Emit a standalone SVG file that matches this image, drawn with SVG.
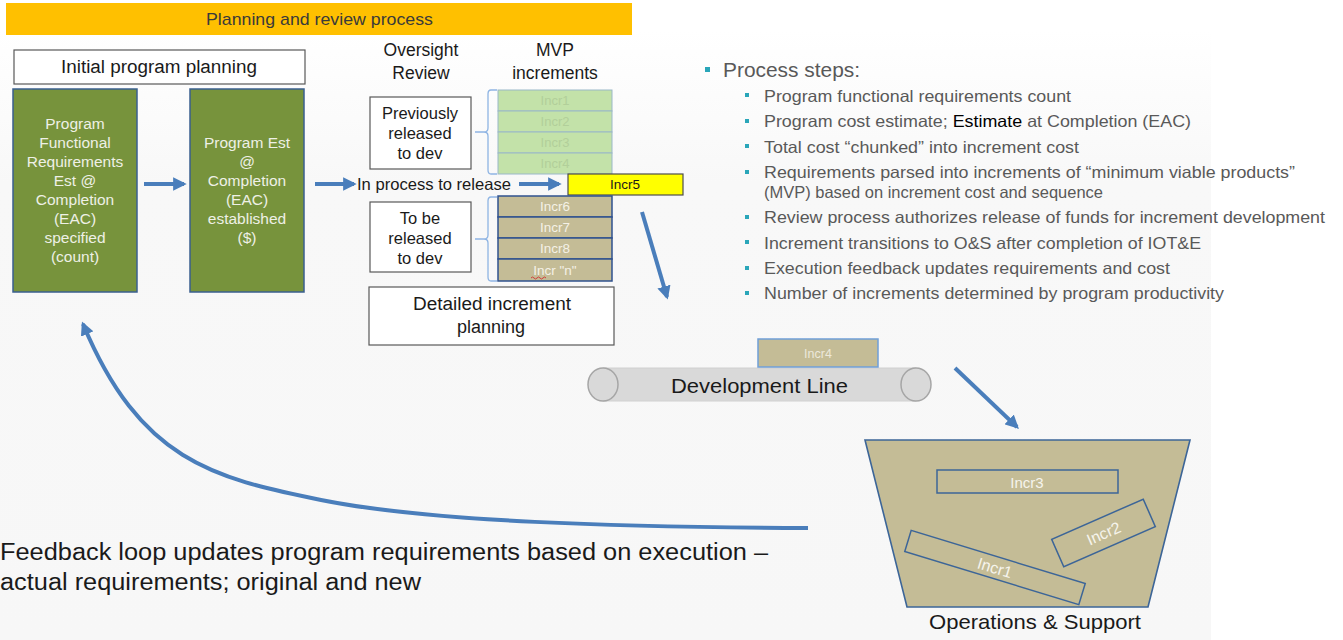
<svg xmlns="http://www.w3.org/2000/svg" width="1343" height="640" viewBox="0 0 1343 640">
  <defs>
    <linearGradient id="bg" x1="0" y1="0" x2="0" y2="1">
      <stop offset="0" stop-color="#ffffff"/>
      <stop offset="0.25" stop-color="#f8f8f8"/>
      <stop offset="1" stop-color="#f7f7f7"/>
    </linearGradient>
    <marker id="ah" viewBox="0 0 10 10" refX="8" refY="5" markerWidth="3.4" markerHeight="3.4" orient="auto" markerUnits="strokeWidth">
      <path d="M0,0 L10,5 L0,10 Z" fill="#4a7ebb"/>
    </marker>
  </defs>
  <style>
    text { font-family: "Liberation Sans", Arial, sans-serif; }
    .lbl { fill: #1a1a1a; text-anchor: middle; }
    .box { fill: #ffffff; stroke: #595959; stroke-width: 1.2; }
    .green { fill: #77933c; stroke: #3a5f8f; stroke-width: 1.5; }
    .gtxt { fill: #eef0e6; font-size: 15.5px; text-anchor: middle; }
    .done { fill: #c3e2a9; stroke: #9ab8c8; stroke-width: 1; }
    .donetxt { fill: #b2cf9a; font-size: 13px; text-anchor: middle; }
    .tan { fill: #c4bc96; stroke: #2f528f; stroke-width: 1.5; }
    .tantxt { fill: #f4f1e6; font-size: 13.5px; text-anchor: middle; }
    .brace { fill: none; stroke: #8eb4e3; stroke-width: 1.3; }
    .conn { fill: none; stroke: #4a7ebb; stroke-width: 4; }
    .step { fill: #595959; font-size: 16.5px; }
    .bul { fill: #2aa6b9; }
    .ostxt { fill: #f6f4ec; text-anchor: middle; }
  </style>

  <!-- page background -->
  <rect x="0" y="0" width="1343" height="640" fill="#ffffff"/>
  <rect x="0" y="30" width="1211" height="610" fill="url(#bg)"/>

  <!-- header band -->
  <g id="header">
    <rect x="6" y="3" width="626" height="32" fill="#ffc000"/>
    <text x="206" y="25" font-size="17" fill="#3a3a3a" textLength="227" lengthAdjust="spacingAndGlyphs">Planning and review process</text>
  </g>

  <g id="initial-planning">
    <rect class="box" x="14" y="50" width="291" height="34"/>
    <text x="61" y="73" font-size="18" fill="#1a1a1a" textLength="196" lengthAdjust="spacingAndGlyphs">Initial program planning</text>
  </g>

  <g id="functional-req">
    <rect class="green" x="13" y="89" width="124" height="203"/>
    <text class="gtxt" x="75" y="129">Program</text>
    <text class="gtxt" x="75" y="148">Functional</text>
    <text class="gtxt" x="75" y="167">Requirements</text>
    <text class="gtxt" x="75" y="186">Est @</text>
    <text class="gtxt" x="75" y="205">Completion</text>
    <text class="gtxt" x="75" y="224">(EAC)</text>
    <text class="gtxt" x="75" y="243">specified</text>
    <text class="gtxt" x="75" y="262">(count)</text>
  </g>

  <g id="program-est">
    <rect class="green" x="190" y="89" width="114" height="203"/>
    <text class="gtxt" x="247" y="148">Program Est</text>
    <text class="gtxt" x="247" y="167">@</text>
    <text class="gtxt" x="247" y="186">Completion</text>
    <text class="gtxt" x="247" y="205">(EAC)</text>
    <text class="gtxt" x="247" y="224">established</text>
    <text class="gtxt" x="247" y="243">($)</text>
  </g>

  <g id="oversight-heading">
    <text class="lbl" x="421" y="56" font-size="17.5">Oversight</text>
    <text class="lbl" x="421" y="79" font-size="17.5">Review</text>
  </g>
  <g id="mvp-heading">
    <text class="lbl" x="555" y="56" font-size="17.5">MVP</text>
    <text class="lbl" x="555" y="79" font-size="17.5">increments</text>
  </g>

  <g id="previously-released">
    <rect class="box" x="370" y="97" width="101" height="72"/>
    <text class="lbl" x="420" y="119" font-size="16.5">Previously</text>
    <text class="lbl" x="420" y="139" font-size="16.5">released</text>
    <text class="lbl" x="420" y="159" font-size="16.5">to dev</text>
    <path class="brace" d="M497,90 H491 Q488,90 488,94 V128 Q488,132 484,132 H475 M484,132 Q488,132 488,136 V170 Q488,174 491,174 H497"/>
  </g>

  <g id="released-increments">
    <rect class="done" x="498" y="90" width="114" height="21"/>
    <rect class="done" x="498" y="111" width="114" height="21"/>
    <rect class="done" x="498" y="132" width="114" height="21"/>
    <rect class="done" x="498" y="153" width="114" height="21"/>
    <text class="donetxt" x="555" y="105">Incr1</text>
    <text class="donetxt" x="555" y="126">Incr2</text>
    <text class="donetxt" x="555" y="147">Incr3</text>
    <text class="donetxt" x="555" y="168">Incr4</text>
  </g>

  <g id="in-process">
    <text x="357" y="190" font-size="16.5" fill="#1a1a1a" textLength="154" lengthAdjust="spacingAndGlyphs">In process to release</text>
  </g>

  <g id="incr5">
    <rect x="568" y="174" width="115" height="21" fill="#ffff00" stroke="#4d4d4d" stroke-width="1.2"/>
    <text x="625" y="189" font-size="13.5" fill="#1a1a1a" text-anchor="middle">Incr5</text>
  </g>

  <g id="to-be-released">
    <rect class="box" x="370" y="202" width="101" height="70"/>
    <text class="lbl" x="420" y="224" font-size="16.5">To be</text>
    <text class="lbl" x="420" y="244" font-size="16.5">released</text>
    <text class="lbl" x="420" y="264" font-size="16.5">to dev</text>
    <path class="brace" d="M497,197 H491 Q488,197 488,201 V235 Q488,239 484,239 H475 M484,239 Q488,239 488,243 V277 Q488,281 491,281 H497"/>
  </g>

  <g id="pending-increments">
    <rect class="tan" x="498" y="196" width="114" height="21"/>
    <rect class="tan" x="498" y="217" width="114" height="21"/>
    <rect class="tan" x="498" y="238" width="114" height="21"/>
    <rect class="tan" x="498" y="259" width="114" height="22"/>
    <text class="tantxt" x="555" y="211">Incr6</text>
    <text class="tantxt" x="555" y="232">Incr7</text>
    <text class="tantxt" x="555" y="253">Incr8</text>
    <text class="tantxt" x="555" y="275">Incr "n"</text>
    <path d="M531,278 q1.5,-2 3,0 t3,0 t3,0 t3,0 t3,0" fill="none" stroke="#d03030" stroke-width="0.9"/>
  </g>

  <g id="detailed-planning">
    <rect class="box" x="369" y="287" width="245" height="58"/>
    <text x="413" y="310" font-size="18" fill="#1a1a1a" textLength="158" lengthAdjust="spacingAndGlyphs">Detailed increment</text>
    <text class="lbl" x="491" y="333" font-size="18">planning</text>
  </g>

  <g id="development-line">
    <rect x="603" y="368" width="313" height="33" fill="#d9d9d9"/>
    <path d="M603,368 H916 M603,401 H916" stroke="#d0d0d0" stroke-width="1"/>
    <ellipse cx="603" cy="384.5" rx="15" ry="16.5" fill="#d9d9d9" stroke="#a6a6a6" stroke-width="1.5"/>
    <ellipse cx="916" cy="384.5" rx="15" ry="16.5" fill="#d9d9d9" stroke="#a6a6a6" stroke-width="1.5"/>
    <text x="671" y="393" font-size="21" fill="#1a1a1a" textLength="177" lengthAdjust="spacingAndGlyphs">Development Line</text>
  </g>

  <g id="incr4-dev">
    <rect x="758" y="339" width="120" height="28" fill="#c4bc96" stroke="#6f9fd8" stroke-width="1.5"/>
    <text x="818" y="358" font-size="12.5" fill="#ece8da" text-anchor="middle">Incr4</text>
  </g>

  <g id="operations-support">
    <polygon points="865,440 1190,440 1148,607 907,607" fill="#c4bc96" stroke="#3c6598" stroke-width="1.6"/>
    <rect x="937" y="470" width="181" height="23" fill="none" stroke="#3c6598" stroke-width="1.5"/>
    <text class="ostxt" x="1027" y="488" font-size="15">Incr3</text>
    <g transform="translate(995,567.5) rotate(17)">
      <rect x="-91" y="-11" width="182" height="22" fill="none" stroke="#3c6598" stroke-width="1.5"/>
      <text class="ostxt" x="0" y="6" font-size="16">Incr1</text>
    </g>
    <g transform="translate(1103.5,533) rotate(-23.7)">
      <rect x="-50" y="-15" width="100" height="30" fill="none" stroke="#3c6598" stroke-width="1.5"/>
      <text class="ostxt" x="0" y="6" font-size="16">Incr2</text>
    </g>
    <text x="929" y="629" font-size="21" fill="#1a1a1a" textLength="212" lengthAdjust="spacingAndGlyphs">Operations &amp; Support</text>
  </g>

  <g id="feedback-label">
    <text x="0" y="560" font-size="23" fill="#1a1a1a" textLength="768" lengthAdjust="spacingAndGlyphs">Feedback loop updates program requirements based on execution –</text>
    <text x="0" y="590" font-size="23" fill="#1a1a1a" textLength="421" lengthAdjust="spacingAndGlyphs">actual requirements; original and new</text>
  </g>

  <g id="process-steps">
    <rect class="bul" x="705" y="67" width="5" height="5"/>
    <text x="723" y="77" font-size="19.5" fill="#595959" textLength="137" lengthAdjust="spacingAndGlyphs">Process steps:</text>
    <rect class="bul" x="745" y="93" width="4" height="4"/>
    <text class="step" x="764" y="102" textLength="307" lengthAdjust="spacingAndGlyphs">Program functional requirements count</text>
    <rect class="bul" x="745" y="119" width="4" height="4"/>
    <text class="step" x="764" y="127" textLength="427" lengthAdjust="spacingAndGlyphs">Program cost estimate; <tspan fill="#000000">Estimate</tspan> at Completion (EAC)</text>
    <rect class="bul" x="745" y="144" width="4" height="4"/>
    <text class="step" x="764" y="153" textLength="315" lengthAdjust="spacingAndGlyphs">Total cost “chunked” into increment cost</text>
    <rect class="bul" x="745" y="170" width="4" height="4"/>
    <text class="step" x="764" y="178" textLength="531" lengthAdjust="spacingAndGlyphs">Requirements parsed into increments of “minimum viable products”</text>
    <text class="step" x="764" y="198" textLength="339" lengthAdjust="spacingAndGlyphs">(MVP) based on increment cost and sequence</text>
    <rect class="bul" x="745" y="215" width="4" height="4"/>
    <text class="step" x="764" y="223" textLength="561" lengthAdjust="spacingAndGlyphs">Review process authorizes release of funds for increment development</text>
    <rect class="bul" x="745" y="240" width="4" height="4"/>
    <text class="step" x="764" y="249" textLength="437" lengthAdjust="spacingAndGlyphs">Increment transitions to O&amp;S after completion of IOT&amp;E</text>
    <rect class="bul" x="745" y="266" width="4" height="4"/>
    <text class="step" x="764" y="274" textLength="406" lengthAdjust="spacingAndGlyphs">Execution feedback updates requirements and cost</text>
    <rect class="bul" x="745" y="291" width="4" height="4"/>
    <text class="step" x="764" y="299" textLength="460" lengthAdjust="spacingAndGlyphs">Number of increments determined by program productivity</text>
  </g>

  <!-- connectors -->
  <g id="connectors">
    <line class="conn" x1="144" y1="184" x2="184" y2="184" marker-end="url(#ah)"/>
    <line class="conn" x1="315" y1="184" x2="354" y2="184" marker-end="url(#ah)"/>
    <line class="conn" x1="519" y1="184" x2="559" y2="184" marker-end="url(#ah)"/>
    <line class="conn" x1="642" y1="212" x2="667" y2="297" marker-end="url(#ah)"/>
    <line class="conn" x1="955" y1="368" x2="1017" y2="427" marker-end="url(#ah)"/>
    <path class="conn" d="M808,528 C620,527 430,522 321,500 S140,460 83,324" marker-end="url(#ah)"/>
  </g>
</svg>
